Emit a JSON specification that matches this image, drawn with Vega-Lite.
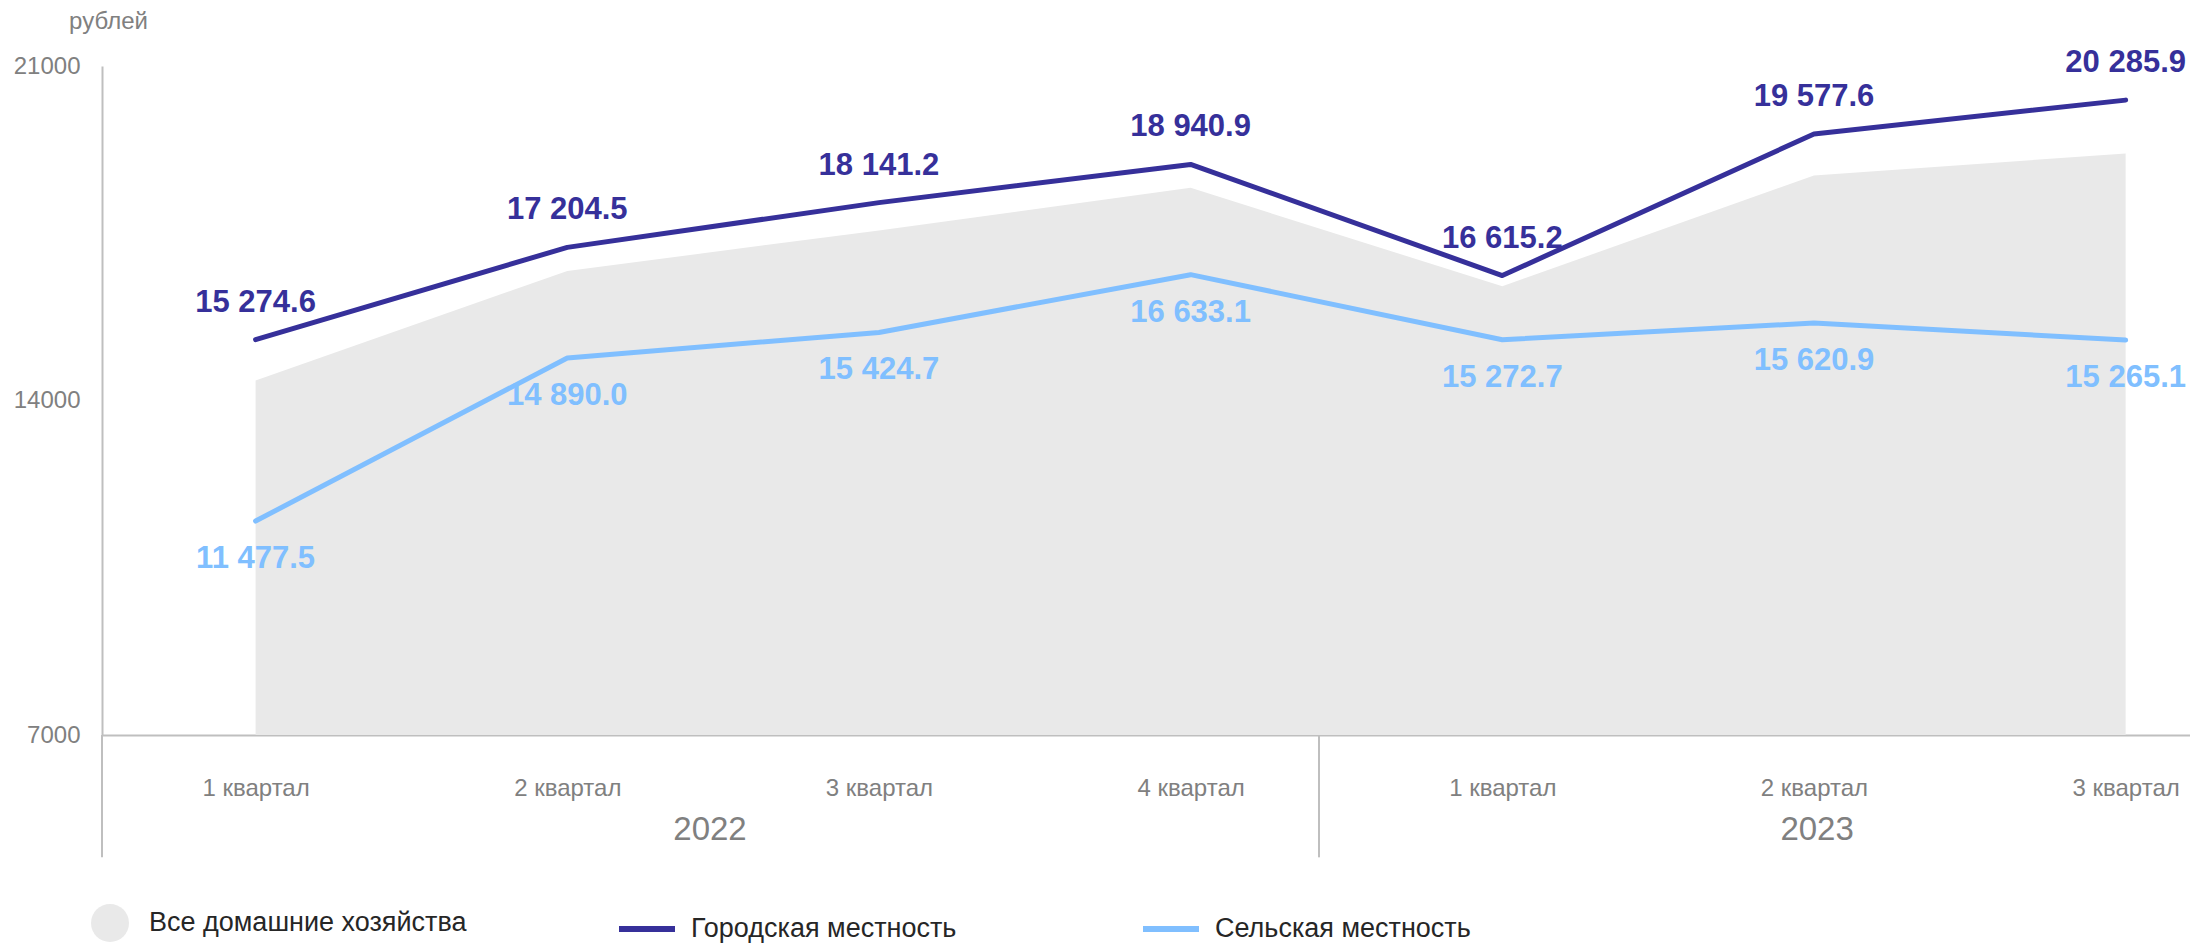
{
  "$schema": "https://vega.github.io/schema/vega-lite/v6.json",
  "width": 2088,
  "height": 669,
  "autosize": {"type": "none"},
  "padding": {"left": 102, "top": 66, "right": 0, "bottom": 208},
  "background": "white",
  "config": {
    "view": {"stroke": null},
    "font": "Liberation Sans",
    "locale": {"number": {"decimal": ".", "thousands": " ", "grouping": [3], "currency": ["", ""]}}
  },
  "datasets": {
    "main": [
      {"i": 0, "series": "Все домашние хозяйства", "value": 14420},
      {"i": 1, "series": "Все домашние хозяйства", "value": 16710},
      {"i": 2, "series": "Все домашние хозяйства", "value": 17560},
      {"i": 3, "series": "Все домашние хозяйства", "value": 18450},
      {"i": 4, "series": "Все домашние хозяйства", "value": 16390},
      {"i": 5, "series": "Все домашние хозяйства", "value": 18710},
      {"i": 6, "series": "Все домашние хозяйства", "value": 19170},
      {"i": 0, "series": "Городская местность", "value": 15274.6},
      {"i": 1, "series": "Городская местность", "value": 17204.5},
      {"i": 2, "series": "Городская местность", "value": 18141.2},
      {"i": 3, "series": "Городская местность", "value": 18940.9},
      {"i": 4, "series": "Городская местность", "value": 16615.2},
      {"i": 5, "series": "Городская местность", "value": 19577.6},
      {"i": 6, "series": "Городская местность", "value": 20285.9},
      {"i": 0, "series": "Сельская местность", "value": 11477.5},
      {"i": 1, "series": "Сельская местность", "value": 14890.0},
      {"i": 2, "series": "Сельская местность", "value": 15424.7},
      {"i": 3, "series": "Сельская местность", "value": 16633.1},
      {"i": 4, "series": "Сельская местность", "value": 15272.7},
      {"i": 5, "series": "Сельская местность", "value": 15620.9},
      {"i": 6, "series": "Сельская местность", "value": 15265.1}
    ],
    "years": [
      {"year": "2022", "i": 1.458},
      {"year": "2023", "i": 5.01}
    ],
    "seps": [
      {"i": -0.4928},
      {"i": 3.412}
    ]
  },
  "layer": [
    {
      "data": {"name": "main"},
      "transform": [{"filter": "datum.series === 'Все домашние хозяйства'"}],
      "mark": {"type": "area", "interpolate": "linear", "opacity": 1},
      "encoding": {
        "x": {
          "field": "i", "type": "quantitative",
          "scale": {"domain": [-0.4928, 6.2065], "nice": false, "zero": false},
          "axis": {
            "values": [0, 1, 2, 3, 4, 5, 6],
            "labelExpr": "['1 квартал','2 квартал','3 квартал','4 квартал','1 квартал','2 квартал','3 квартал'][datum.value]",
            "title": null, "grid": false, "ticks": false, "tickSize": 0,
            "domainColor": "#bfbfbf", "domainWidth": 2,
            "labelFontSize": 24, "labelColor": "#808080",
            "labelPadding": 53, "labelBaseline": "middle", "labelFlush": false
          }
        },
        "y": {
          "field": "value", "type": "quantitative",
          "scale": {"domain": [7000, 21000], "nice": false, "zero": false},
          "axis": {
            "values": [7000, 14000, 21000], "format": "d",
            "grid": false, "ticks": false, "tickSize": 0,
            "domainColor": "#bfbfbf", "domainWidth": 2,
            "labelFontSize": 24, "labelColor": "#808080", "labelPadding": 22, "labelFlush": false,
            "title": "рублей", "titleAngle": 0, "titleX": 6, "titleY": -45,
            "titleAlign": "center", "titleBaseline": "middle",
            "titleFontSize": 24, "titleFontWeight": "normal", "titleColor": "#808080"
          }
        },
        "y2": {"datum": 7000},
        "fill": {
          "field": "series", "type": "nominal",
          "scale": {"domain": ["Все домашние хозяйства"], "range": ["#e9e9e9"]},
          "legend": {
            "orient": "none", "legendX": -11, "legendY": 838,
            "title": null, "symbolType": "circle", "symbolSize": 1444,
            "symbolStrokeWidth": 0, "symbolOpacity": 1, "symbolFillColor": "#e9e9e9",
            "labelFontSize": 27, "labelColor": "#262626", "labelOffset": 20, "labelLimit": 600
          }
        }
      }
    },
    {
      "data": {"name": "main"},
      "transform": [{"filter": "datum.series !== 'Все домашние хозяйства'"}],
      "mark": {"type": "line", "strokeWidth": 5, "strokeCap": "round", "strokeJoin": "round"},
      "encoding": {
        "x": {"field": "i", "type": "quantitative"},
        "y": {"field": "value", "type": "quantitative"},
        "stroke": {
          "field": "series", "type": "nominal",
          "scale": {"domain": ["Городская местность", "Сельская местность"], "range": ["#36309a", "#80bfff"]},
          "legend": {
            "orient": "none", "legendX": 514, "legendY": 832,
            "direction": "horizontal", "columns": 2, "gridAlign": "all", "columnPadding": 174,
            "title": null, "symbolType": "stroke", "symbolSize": 3136, "symbolStrokeWidth": 6,
            "labelFontSize": 27, "labelColor": "#262626", "labelOffset": 13, "labelLimit": 600
          }
        }
      }
    },
    {
      "data": {"name": "main"},
      "transform": [{"filter": "datum.series === 'Городская местность'"}],
      "mark": {"type": "text", "fontSize": 31, "fontWeight": "bold", "color": "#36309a", "dy": -37, "baseline": "middle", "align": "center"},
      "encoding": {
        "x": {"field": "i", "type": "quantitative"},
        "y": {"field": "value", "type": "quantitative"},
        "text": {"field": "value", "type": "quantitative", "format": ",.1f"}
      }
    },
    {
      "data": {"name": "main"},
      "transform": [{"filter": "datum.series === 'Сельская местность'"}],
      "mark": {"type": "text", "fontSize": 31, "fontWeight": "bold", "color": "#80bfff", "dy": 38, "baseline": "middle", "align": "center"},
      "encoding": {
        "x": {"field": "i", "type": "quantitative"},
        "y": {"field": "value", "type": "quantitative"},
        "text": {"field": "value", "type": "quantitative", "format": ",.1f"}
      }
    },
    {
      "data": {"name": "seps"},
      "mark": {"type": "rule", "color": "#bfbfbf", "strokeWidth": 2},
      "encoding": {
        "x": {"field": "i", "type": "quantitative"},
        "y": {"datum": 7000},
        "y2": {"datum": 4440}
      }
    },
    {
      "data": {"name": "years"},
      "mark": {"type": "text", "fontSize": 33, "color": "#808080", "baseline": "middle", "align": "center", "dy": 95},
      "encoding": {
        "x": {"field": "i", "type": "quantitative"},
        "y": {"datum": 7000},
        "text": {"field": "year", "type": "nominal"}
      }
    }
  ]
}
